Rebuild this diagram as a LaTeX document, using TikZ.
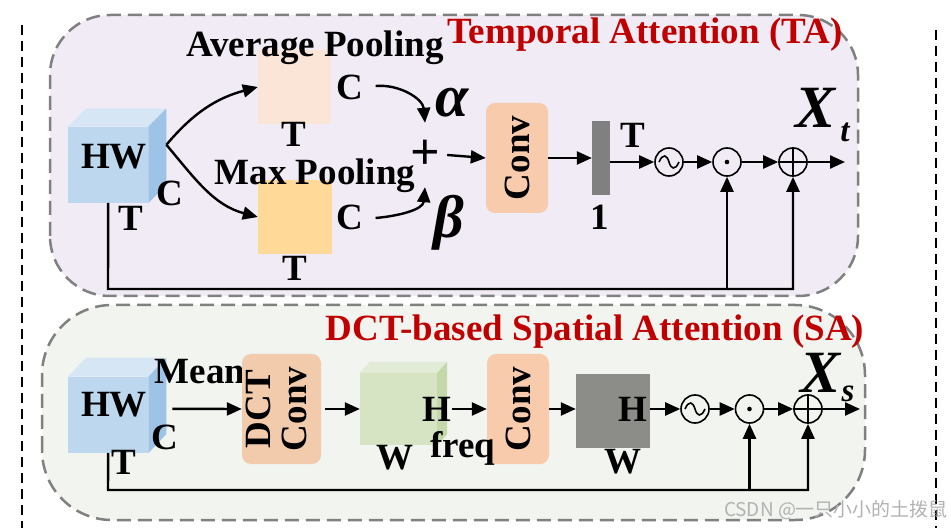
\documentclass[tikz,border=0pt]{standalone}
\usepackage{fontspec}
\setmainfont{Liberation Serif}
\newfontfamily\cjkfont{Noto Sans CJK SC}
\usetikzlibrary{arrows.meta,calc}
\definecolor{tafill}{RGB}{240,235,244}
\definecolor{safill}{RGB}{242,244,240}
\definecolor{boxgray}{RGB}{128,128,128}
\definecolor{titlered}{RGB}{192,0,0}
\definecolor{cubefront}{RGB}{189,215,238}
\definecolor{cubetop}{RGB}{214,230,244}
\definecolor{cubeside}{RGB}{157,195,230}
\definecolor{gfront}{RGB}{215,228,196}
\definecolor{gtop}{RGB}{226,235,214}
\definecolor{gside}{RGB}{197,216,170}
\definecolor{avgfill}{RGB}{251,229,214}
\definecolor{maxfill}{RGB}{255,217,152}
\definecolor{convfill}{RGB}{248,203,173}
\definecolor{dctfill}{RGB}{241,203,172}
\definecolor{bargray}{RGB}{128,128,128}
\definecolor{sqgray}{RGB}{140,141,137}
\begin{document}
\begin{tikzpicture}[x=1pt,y=1pt,
  lbl/.style={font=\fontsize{37}{37}\selectfont\bfseries, inner sep=0pt},
  ttl/.style={font=\fontsize{37}{37}\selectfont\bfseries, text=titlered, inner sep=0pt},
  greek/.style={font=\fontsize{60}{60}\selectfont\bfseries\itshape, inner sep=0pt},
  bigx/.style={font=\fontsize{60}{60}\selectfont\bfseries\itshape, inner sep=0pt},
  subx/.style={font=\fontsize{33}{34}\selectfont\bfseries\itshape, inner sep=0pt},
  arr/.style={line width=2.4pt, -{Triangle[length=15pt,width=13pt]}},
  grp/.style={draw=boxgray, line width=2.5pt, dash pattern=on 14pt off 7pt, rounded corners=60pt},
  sepline/.style={draw=black, line width=2.5pt, dash pattern=on 10pt off 6pt},
  opc/.style={circle, draw, line width=1.6pt, minimum size=28pt, inner sep=0pt},
  convbox/.style={rounded corners=9pt, fill=convfill, inner sep=0pt, minimum width=62pt, minimum height=110pt, font=\fontsize{37}{36}\selectfont\bfseries},
  flatbox/.style={inner sep=0pt}
]
\useasboundingbox (0,0) rectangle (951,528);
% group frames
\path[grp, fill=tafill] (50,232) rectangle (858,513);
\path[grp, fill=safill, rounded corners=70pt] (42,8) rectangle (865,223);
\draw[sepline] (22,503) -- (22,0);
\draw[sepline] (936,498) -- (936,0);

% ---------------- Temporal Attention ----------------
\node[ttl] (tatitle) at (645,493) {Temporal Attention (TA)};
\node[flatbox, fill=cubefront, minimum width=80pt, minimum height=76pt, anchor=south west] (cube1) at (68,325) {};
\fill[cubetop] (cube1.north west) -- ++(18,18) -- ($(cube1.north east)+(18,18)$) -- (cube1.north east) -- cycle;
\fill[cubeside] (cube1.north east) -- ++(18,18) -- ($(cube1.south east)+(18,18)$) -- (cube1.south east) -- cycle;
\node[lbl] (hw1) at (114,371) {HW};
\node[lbl] (c1) at (170,335) {C};
\node[lbl] (t1) at (131,310) {T};
\coordinate (c1out) at ($(cube1.east)+(18,20)$);

\node[flatbox, fill=avgfill, minimum width=73pt, minimum height=74pt] (avg) at (294.5,441) {};
\node[flatbox, fill=maxfill, minimum width=74pt, minimum height=74pt] (max) at (295,311) {};
\node[lbl] (avglbl) at (315,480) {Average Pooling};
\node[lbl] (maxlbl) at (315,352) {Max Pooling};
\node[lbl] (cA) at (350,441) {C};
\node[lbl] (tA) at (294,394) {T};
\node[lbl] (cM) at (350,311) {C};
\node[lbl] (tM) at (295,260) {T};
\draw[arr] (c1out) to[out=50,in=195] (avg.west);
\draw[arr] (c1out) to[out=-50,in=165] (max.west);

\node[font=\fontsize{52}{52}\selectfont\bfseries, inner sep=0pt, minimum width=44pt, minimum height=64pt] (plus) at (425,373) {+};
\node[greek] (alpha) at (452,425) {α};
\node[greek] (beta) at (449,305) {β};
\draw[arr] ($(cA.east)+(12,1)$) to[out=5,in=95] (plus.north);
\draw[arr] ($(cM.east)+(12,-1)$) to[out=5,in=-95] (plus.south);

\node[convbox] (conv1) at (517,370) {\rotatebox{90}{Conv}};
\draw[arr] (plus.east) -- (conv1.west);
\node[flatbox, fill=bargray, minimum width=18pt, minimum height=74pt] (bar) at (601,370) {};
\draw[arr] (conv1.east) -- (bar.west);
\node[lbl] (tbar) at (633,393) {T};
\node[lbl] (onebar) at (600,311) {1};

\node[opc] (sig1) at (669,366) {};
\draw[line width=1.6pt] ($(sig1)+(-10,0)$) .. controls ($(sig1)+(-6,9)$) and ($(sig1)+(-2,7)$) .. (sig1.center) .. controls ($(sig1)+(2,-7)$) and ($(sig1)+(6,-9)$) .. ($(sig1)+(10,0)$);
\node[opc] (odot1) at (727,366) {};
\fill (odot1) circle (2.3pt);
\node[opc] (oplus1) at (793,366) {};
\draw[line width=1.6pt] (oplus1.north) -- (oplus1.south) (oplus1.west) -- (oplus1.east);
\coordinate (xtout) at (845,366);
\draw[arr] (bar.east |- sig1.west) -- (sig1.west);
\draw[arr] (sig1.east) -- (odot1.west);
\draw[arr] (odot1.east) -- (oplus1.west);
\draw[arr] (oplus1.east) -- (xtout);
\node[bigx] (xt) at (816,420) {X};
\node[subx] (xtsub) at (845,396) {t};

\coordinate (fbA) at (108,239);
\draw[arr] (cube1.south) -- (fbA) -| (oplus1.south);
\draw[arr] (fbA -| odot1.south) -- (odot1.south);

% ---------------- Spatial Attention ----------------
\node[ttl] (satitle) at (595,196) {DCT-based Spatial Attention (SA)};
\node[flatbox, fill=cubefront, minimum width=80pt, minimum height=76pt, anchor=south west] (cube2) at (68,75) {};
\fill[cubetop] (cube2.north west) -- ++(18,19) -- ($(cube2.north east)+(18,19)$) -- (cube2.north east) -- cycle;
\fill[cubeside] (cube2.north east) -- ++(18,19) -- ($(cube2.south east)+(18,19)$) -- (cube2.south east) -- cycle;
\node[lbl] (hw2) at (114,123) {HW};
\node[lbl] (c2) at (165,91) {C};
\node[lbl] (t2) at (124,66) {T};
\node[lbl] (mean) at (200,156) {Mean};

\node[convbox, fill=dctfill, minimum width=79pt] (dct) at (281.5,119) {\rotatebox{90}{\begin{tabular}{@{}c@{}}DCT\\Conv\end{tabular}}};
\draw[arr] ($(cube2.east)+(24,6)$) -- (dct.west);

\node[flatbox, fill=gfront, minimum width=77pt, minimum height=72pt] (gcube) at (398.5,119) {};
\fill[gtop] (gcube.north west) -- ++(10,11) -- ($(gcube.north east)+(10,11)$) -- (gcube.north east) -- cycle;
\fill[gside] (gcube.north east) -- ++(10,11) -- ($(gcube.south east)+(10,11)$) -- (gcube.south east) -- cycle;
\draw[arr] (dct.east) ++(4,0) -- (gcube.west);
\node[lbl] (hG) at (437,119) {H};
\node[lbl] (wG) at (395,70) {W};

\node[convbox] (conv2) at (518,119) {\rotatebox{90}{Conv}};
\draw[arr] (hG.east) -- (conv2.west);
\node[lbl] (freq) at (463,80) {freq};

\node[flatbox, fill=sqgray, minimum width=74pt, minimum height=73pt] (gsq) at (613,117) {};
\draw[arr] (conv2.east) -- (gsq.west |- conv2.east);
\node[lbl] (hS) at (633,119) {H};
\node[lbl] (wS) at (623,66) {W};

\node[opc] (sig2) at (695,119) {};
\draw[line width=1.6pt] ($(sig2)+(-10,0)$) .. controls ($(sig2)+(-6,9)$) and ($(sig2)+(-2,7)$) .. (sig2.center) .. controls ($(sig2)+(2,-7)$) and ($(sig2)+(6,-9)$) .. ($(sig2)+(10,0)$);
\node[opc] (odot2) at (749.5,119) {};
\fill (odot2) circle (2.3pt);
\node[opc] (oplus2) at (808,119) {};
\draw[line width=1.6pt] (oplus2.north) -- (oplus2.south) (oplus2.west) -- (oplus2.east);
\coordinate (xsout) at (860,119);
\draw[arr] (gsq.east |- sig2.west) -- (sig2.west);
\draw[arr] (sig2.east) -- (odot2.west);
\draw[arr] (odot2.east) -- (oplus2.west);
\draw[arr] (oplus2.east) -- (xsout);
\node[bigx] (xs) at (821,155) {X};
\node[subx] (xssub) at (848,134) {s};

\coordinate (fbS) at (108,38);
\draw[arr] (cube2.south) -- (fbS) -| (oplus2.south);
\draw[arr] (fbS -| odot2.south) -- (odot2.south);

\node[font=\cjkfont\fontsize{19}{20}\selectfont, text=black!30, inner sep=0pt] (wm) at (836,18) {CSDN @一只小小的土拨鼠};
\end{tikzpicture}
\end{document}
